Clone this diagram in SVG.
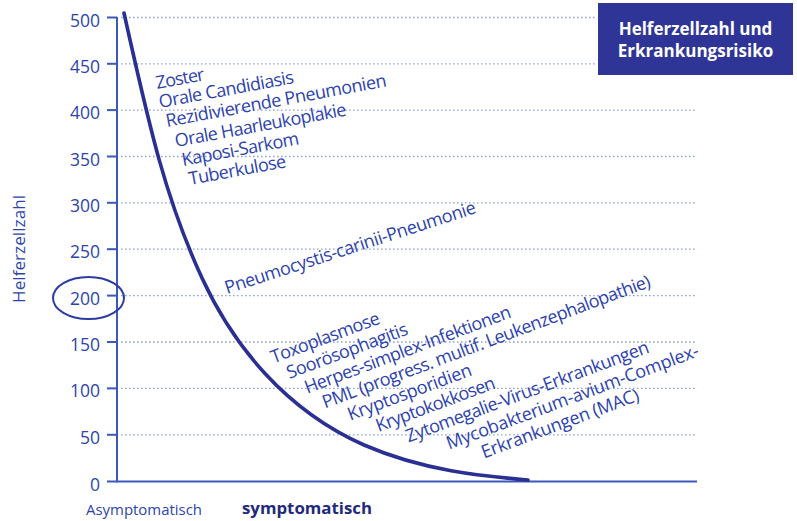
<svg xmlns="http://www.w3.org/2000/svg" width="797" height="521" viewBox="0 0 797 521">
  <style>
    .grid { stroke: #8da3dc; stroke-width: 1.3; stroke-dasharray: 1.6 2.4; fill: none; }
    .axis { stroke: #3a58bd; stroke-width: 2; fill: none; }
    .tick { stroke: #3a58bd; stroke-width: 2; }
    .num { font-family: "Open Sans", "Liberation Sans", sans-serif; font-size: 17.5px; fill: #2c45aa; text-anchor: end; }
    .dis { font-family: "Open Sans", "Liberation Sans", sans-serif; font-size: 18px; fill: #2c42ad; }
    .curve { stroke: #2a2f93; stroke-width: 3.6; fill: none; stroke-linecap: round; }
    .title { font-family: "Open Sans", "Liberation Sans", sans-serif; font-size: 17px; font-weight: bold; fill: #ffffff; text-anchor: middle; }
  </style>
  <rect width="797" height="521" fill="#ffffff"/>

  <!-- dotted grid lines -->
  <g id="grid">
    <line class="grid" x1="121" y1="17.5" x2="597" y2="17.5"/>
    <line class="grid" x1="121" y1="63.8" x2="597" y2="63.8"/>
    <line class="grid" x1="121" y1="110.1" x2="697" y2="110.1"/>
    <line class="grid" x1="121" y1="156.5" x2="697" y2="156.5"/>
    <line class="grid" x1="121" y1="202.8" x2="697" y2="202.8"/>
    <line class="grid" x1="121" y1="249.2" x2="697" y2="249.2"/>
    <line class="grid" x1="121" y1="295.6" x2="697" y2="295.6"/>
    <line class="grid" x1="121" y1="342" x2="697" y2="342"/>
    <line class="grid" x1="121" y1="388.4" x2="697" y2="388.4"/>
    <line class="grid" x1="121" y1="434.8" x2="697" y2="434.8"/>
  </g>

  <!-- axes, ticks and values -->
  <g id="axes">
    <line class="axis" x1="117" y1="17" x2="117" y2="482"/>
    <line class="axis" x1="116" y1="481.5" x2="697" y2="481.5"/>
    <g class="tick">
      <line x1="107" y1="17.5" x2="117" y2="17.5"/>
      <line x1="107" y1="63.8" x2="117" y2="63.8"/>
      <line x1="107" y1="110.1" x2="117" y2="110.1"/>
      <line x1="107" y1="156.5" x2="117" y2="156.5"/>
      <line x1="107" y1="202.8" x2="117" y2="202.8"/>
      <line x1="107" y1="249.2" x2="117" y2="249.2"/>
      <line x1="107" y1="295.6" x2="117" y2="295.6"/>
      <line x1="107" y1="342" x2="117" y2="342"/>
      <line x1="107" y1="388.4" x2="117" y2="388.4"/>
      <line x1="107" y1="434.8" x2="117" y2="434.8"/>
      <line x1="107" y1="481.5" x2="117" y2="481.5"/>
    </g>
    <text class="num" x="100" y="26.5">500</text>
    <text class="num" x="100" y="72.8">450</text>
    <text class="num" x="100" y="119.1">400</text>
    <text class="num" x="100" y="165.5">350</text>
    <text class="num" x="100" y="211.8">300</text>
    <text class="num" x="100" y="258.2">250</text>
    <text class="num" x="100" y="304.6">200</text>
    <text class="num" x="100" y="351">150</text>
    <text class="num" x="100" y="397.4">100</text>
    <text class="num" x="100" y="443.8">50</text>
    <text class="num" x="100" y="490.5">0</text>
    <ellipse cx="88.5" cy="298" rx="35.5" ry="21" fill="none" stroke="#2c3ca2" stroke-width="2"/>
    <text x="25" y="249" transform="rotate(-90 25 249)" text-anchor="middle" font-family="Open Sans, Liberation Sans, sans-serif" font-size="17" fill="#2c45aa" textLength="108">Helferzellzahl</text>
    <text x="86" y="515" font-family="Open Sans, Liberation Sans, sans-serif" font-size="15" fill="#2c45aa" textLength="116" lengthAdjust="spacingAndGlyphs">Asymptomatisch</text>
    <text x="242" y="514" font-family="Open Sans, Liberation Sans, sans-serif" font-size="16" font-weight="bold" fill="#1f2a7c" textLength="130" lengthAdjust="spacingAndGlyphs">symptomatisch</text>
  </g>

  <!-- helper cell count curve -->
  <g id="curve">
    <path class="curve" d="M124,13 C150,130 166,200 202,278 C233,345 285,410 364,445 C424,471 482,476 528,480"/>
  </g>

  <!-- diseases above 200 cells -->
  <g id="group-early">
    <text class="dis" x="157" y="89" transform="rotate(-10.5 157 89)" textLength="49">Zoster</text>
    <text class="dis" x="160" y="108" transform="rotate(-10.5 160 108)" textLength="137">Orale Candidiasis</text>
    <text class="dis" x="167" y="127" transform="rotate(-10.5 167 127)" textLength="224">Rezidivierende Pneumonien</text>
    <text class="dis" x="176" y="147" transform="rotate(-10.5 176 147)" textLength="174">Orale Haarleukoplakie</text>
    <text class="dis" x="183" y="166" transform="rotate(-10.5 183 166)" textLength="119">Kaposi-Sarkom</text>
    <text class="dis" x="190" y="185" transform="rotate(-10.5 190 185)" textLength="98.5">Tuberkulose</text>
  </g>

  <g id="group-pcp">
    <text class="dis" x="227" y="294" transform="rotate(-18 227 294)" textLength="263">Pneumocystis-carinii-Pneumonie</text>
  </g>

  <!-- diseases below 150 cells -->
  <g id="group-late">
    <text class="dis" x="273.4" y="363.4" transform="rotate(-20.5 273.4 363.4)" textLength="115">Toxoplasmose</text>
    <text class="dis" x="289.3" y="378.9" transform="rotate(-20.5 289.3 378.9)" textLength="128">Soorösophagitis</text>
    <text class="dis" x="307.2" y="393.7" transform="rotate(-20.5 307.2 393.7)" textLength="219">Herpes-simplex-Infektionen</text>
    <text class="dis" x="324.9" y="408.5" transform="rotate(-20.5 324.9 408.5)" textLength="349">PML (progress. multif. Leukenzephalopathie)</text>
    <text class="dis" x="350.3" y="420.8" transform="rotate(-20.5 350.3 420.8)" textLength="131">Kryptosporidien</text>
    <text class="dis" x="378.5" y="432" transform="rotate(-20.5 378.5 432)" textLength="126">Kryptokokkosen</text>
    <text class="dis" x="408.6" y="442.5" transform="rotate(-20.5 408.6 442.5)" textLength="258">Zytomegalie-Virus-Erkrankungen</text>
    <text class="dis" x="449.1" y="449.6" transform="rotate(-20.5 449.1 449.6)" textLength="268">Mycobakterium-avium-Complex-</text>
    <text class="dis" x="484" y="458.5" transform="rotate(-20.5 484 458.5)" textLength="167">Erkrankungen (MAC)</text>
  </g>

  <!-- title box -->
  <g id="title">
    <rect x="598" y="3" width="195" height="72" fill="#2e3596"/>
    <text class="title" x="695.5" y="35">Helferzellzahl und</text>
    <text class="title" x="695.5" y="57">Erkrankungsrisiko</text>
  </g>
</svg>
